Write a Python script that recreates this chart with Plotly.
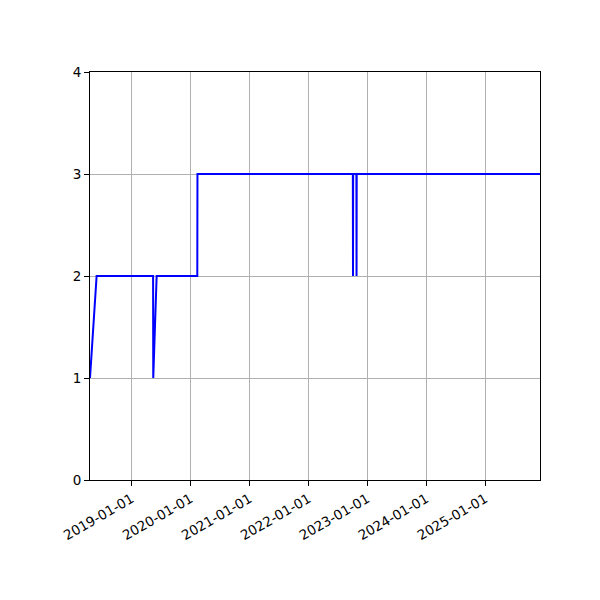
import plotly.graph_objects as go

# step series
dates = [
    "2018-04-18", "2018-05-29", "2019-05-14", "2019-05-15", "2019-06-05",
    "2020-02-12", "2020-02-13", "2022-10-03", "2022-10-04", "2022-10-05",
    "2022-10-25", "2022-10-26", "2022-10-27", "2025-12-06",
]
values = [1, 2, 2, 1, 2, 2, 3, 3, 2, 3, 3, 2, 3, 3]

x_range = ["2018-04-18", "2025-12-06"]
tick_dates = ["2019-01-01", "2020-01-01", "2021-01-01", "2022-01-01",
              "2023-01-01", "2024-01-01", "2025-01-01"]
y_ticks = [0, 1, 2, 3, 4]

fig = go.Figure()
fig.add_trace(go.Scatter(x=dates, y=values, mode="lines",
                         line=dict(color="#0000ff", width=2), showlegend=False))

axis_style = dict(showline=True, linecolor="black", linewidth=1, mirror=True,
                  ticks="outside", ticklen=5, tickwidth=1, tickcolor="black",
                  showgrid=True, gridcolor="#b0b0b0", gridwidth=1,
                  zeroline=False, tickfont=dict(size=13.5, color="black"))

fig.update_xaxes(type="date", range=x_range, tickvals=tick_dates, ticktext=tick_dates,
                 tickangle=-30, **axis_style)
fig.update_yaxes(range=[0, 4], tickvals=y_ticks, **axis_style)

# page body adds 8px, so margins are shifted to keep the axes in place
fig.update_layout(
    width=600, height=600,
    margin=dict(l=82, r=68, t=64, b=128),
    plot_bgcolor="white", paper_bgcolor="white",
    font=dict(family="DejaVu Sans", color="black"),
)

fig.write_html("out.html")
